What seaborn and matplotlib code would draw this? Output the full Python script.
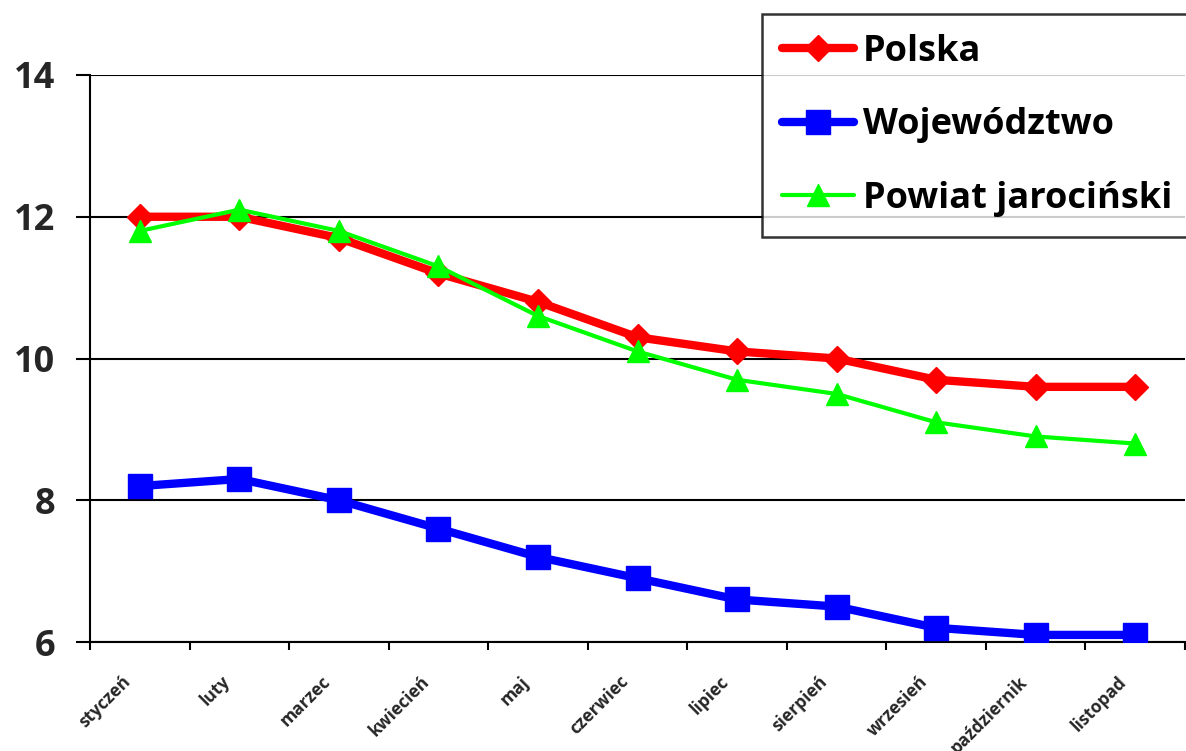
import numpy as np
import pandas as pd
import matplotlib
matplotlib.use("Agg")
import matplotlib.pyplot as plt
import seaborn as sns

months = ["styczeń", "luty", "marzec", "kwiecień", "maj", "czerwiec",
          "lipiec", "sierpień", "wrzesień", "październik", "listopad"]
polska = [12.0, 12.0, 11.7, 11.2, 10.8, 10.3, 10.1, 10.0, 9.7, 9.6, 9.6]
wojewodztwo = [8.2, 8.3, 8.0, 7.6, 7.2, 6.9, 6.6, 6.5, 6.2, 6.1, 6.1]
powiat = [11.8, 12.1, 11.8, 11.3, 10.6, 10.1, 9.7, 9.5, 9.1, 8.9, 8.8]
series_names = ["Polska", "Województwo", "Powiat jarociński"]
y_ticks = [6, 8, 10, 12, 14]

sns.set_theme(style="white")
FONT = ['Open Sans', 'DejaVu Sans']
plt.rcParams['font.family'] = FONT
plt.rcParams['font.weight'] = 'bold'

W, H = 1186, 751
fig = plt.figure(figsize=(W / 100, H / 100), dpi=100)
ax = fig.add_axes([90 / W, 1 - 642 / H, (1185 - 90) / W, (642 - 75) / H])

x = np.arange(len(months))
styles = [
    (polska, "#FF0000", "D", 13, 6.0),
    (wojewodztwo, "#0000FF", "s", 17, 6.0),
    (powiat, "#00FF00", "^", 16, 3.0),
]
for (vals, col, mk, ms, lw), name in zip(styles, series_names):
    df = pd.DataFrame({"x": x, "y": vals})
    sns.lineplot(data=df, x="x", y="y", ax=ax, color=col, marker=mk,
                 markersize=ms, linewidth=lw, markeredgecolor=col,
                 markeredgewidth=1, label=name, legend=False, zorder=3)

ax.set_xlim(-0.5, len(months) - 0.5)
ax.set_ylim(6, 14)
ax.set_yticks(y_ticks)
ax.set_yticklabels([str(v) for v in y_ticks], fontsize=26, fontweight='bold')
ax.yaxis.grid(True, color="black", linewidth=1.5)
ax.set_axisbelow(True)
ax.tick_params(axis='y', length=10, width=1.5, color='black', pad=15, left=True)

# category labels sit slightly left of the category centre (rotated text)
ax.set_xticks(x - 0.18)
ax.set_xticklabels(months, rotation=45, ha='right', rotation_mode='anchor',
                   fontsize=12.5, fontweight='bold')
ax.tick_params(axis='x', length=0, pad=22)
ax.set_xticks(np.arange(-0.5, len(months), 1.0), minor=True)
ax.tick_params(axis='x', which='minor', length=6, width=1.5, color='black', bottom=True)

for s in ["top", "right"]:
    ax.spines[s].set_visible(False)
for s in ["left", "bottom"]:
    ax.spines[s].set_color("black")
    ax.spines[s].set_linewidth(1.5)
ax.set_xlabel("")
ax.set_ylabel("")

handles, labels = ax.get_legend_handles_labels()
leg = fig.legend(handles, labels, loc="upper left",
                 bbox_to_anchor=(762 / W, 1 - 14 / H),
                 prop={'family': FONT, 'weight': 'bold', 'size': 26},
                 frameon=True, fancybox=False, handlelength=2.0,
                 handletextpad=0.25, labelspacing=1.04, borderpad=0.55,
                 borderaxespad=0)
leg.get_frame().set_edgecolor("black")
leg.get_frame().set_linewidth(1.8)
for t in leg.get_texts():
    t.set_color("black")

fig.savefig("out.png", dpi=100)
